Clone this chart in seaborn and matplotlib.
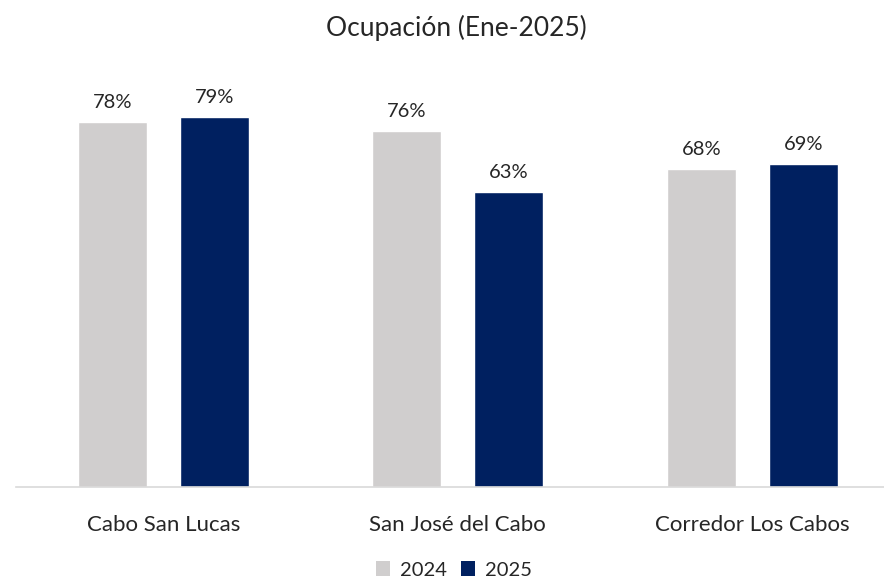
import matplotlib
matplotlib.use("Agg")
import matplotlib.pyplot as plt
import seaborn as sns
import pandas as pd
from matplotlib.patches import Patch

categories = ["Cabo San Lucas", "San José del Cabo", "Corredor Los Cabos"]
years = ["2024", "2025"]
values_2024 = [78, 76, 68]
values_2025 = [79, 63, 69]
title = "Ocupación (Ene-2025)"

df = pd.DataFrame({
    "Zona": categories * 2,
    "Año": [years[0]] * 3 + [years[1]] * 3,
    "Ocupación": values_2024 + values_2025,
})

sns.set_theme(style="white")
plt.rcParams["font.family"] = ["Lato", "DejaVu Sans"]

colors = {"2024": "#D0CECE", "2025": "#002060"}

fig = plt.figure(figsize=(8.84, 5.80), dpi=100)
ax = fig.add_axes([16 / 884, 93 / 580, 883.5 / 884, 468 / 580])
sns.barplot(data=df, x="Zona", y="Ocupación", hue="Año", palette=colors,
            width=0.693, gap=0.325, ax=ax, legend=False, saturation=1)

for cont in ax.containers:
    ax.bar_label(cont, fmt="%.0f%%", padding=8, fontsize=14.5, color="#262626")

ax.set_xlim(-0.5, 2.5)
ax.set_ylim(0, 100)
ax.set_xlabel("")
ax.set_ylabel("")
ax.set_yticks([])
for s in ["top", "right", "left"]:
    ax.spines[s].set_visible(False)
ax.spines["bottom"].set_color("#D9D9D9")
ax.spines["bottom"].set_linewidth(1.2)
ax.tick_params(axis="x", length=0, pad=20, labelsize=16, labelcolor="#262626")

fig.text(456 / 884, 1 - 28 / 580, title, ha="center", va="center",
         fontsize=19, color="#262626")

handles = [Patch(facecolor=colors[y], edgecolor="none", label=y) for y in years]
fig.legend(handles=handles, loc="center", bbox_to_anchor=(454 / 884, 1 - 570 / 580),
           ncol=2, frameon=False, fontsize=14.5, handlelength=0.7, handleheight=0.7,
           handletextpad=0.5, columnspacing=0.7, labelcolor="#262626")

fig.savefig("out.png", dpi=100)
